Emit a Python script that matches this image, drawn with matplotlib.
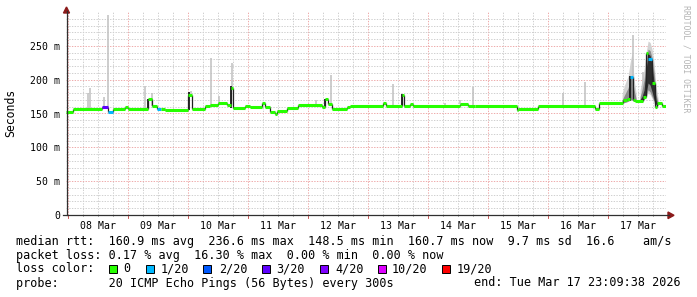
import numpy as np
import matplotlib
matplotlib.use('Agg')
import matplotlib.pyplot as plt
from matplotlib.patches import Rectangle, Polygon
from matplotlib.lines import Line2D

W, H = 697, 297
MONO = 'DejaVu Sans Mono'

# ---------------- data ----------------
# time axis: hours since 08 Mar 00:00
t_start, t_end = -0.84, 239.16
day_labels = ['08 Mar', '09 Mar', '10 Mar', '11 Mar', '12 Mar',
              '13 Mar', '14 Mar', '15 Mar', '16 Mar', '17 Mar']

# median rtt (ms), step breakpoints
med_t = [-0.84, 2.1, 13.5, 16.1, 18.0, 22.8, 24.0, 32.0, 33.6, 35.6, 37.2, 38.8,
         48.0, 49.6, 54.8, 56.8, 60.0, 63.6, 65.2, 66.0, 70.8, 72.8, 77.6, 78.8,
         80.8, 82.8, 83.6, 87.6, 92.0, 101.6, 102.8, 104.0, 105.6, 111.6, 112.8,
         126.0, 127.2, 133.6, 134.4, 136.8, 138.0, 156.8, 160.0, 162.8, 179.6,
         180.0, 188.0, 210.8, 212.4, 222.0, 223.6, 224.8, 226.0, 226.8, 230.0,
         231.2, 232.0, 233.6, 234.8, 235.6, 237.6]
med_v = [152, 156.5, 159, 151.7, 156, 160, 156, 171, 161, 156, 156, 155.5,
         177, 156, 161.5, 162.5, 165, 162.5, 187, 157.7, 161, 159, 165, 160,
         152.7, 149, 153.7, 157.7, 162.5, 159, 171, 164, 156, 160, 161.6,
         165, 161.6, 177, 161.6, 164, 161.6, 163.6, 161.6, 160.6, 155,
         157, 160.6, 156, 165, 170, 172, 204, 170, 169, 175,
         239, 230, 195, 160, 165, 161]
# lost pings (out of 20) per segment
med_loss = [0, 0, 3, 1, 0, 0, 0, 0, 0, 1, 0, 0,
            0, 0, 0, 0, 0, 0, 0, 0, 0, 0, 0, 0,
            0, 0, 0, 0, 0, 0, 0, 0, 0, 0, 0,
            0, 0, 0, 0, 0, 0, 0, 0, 0, 0,
            0, 0, 0, 0, 0, 0, 1, 0, 0, 0,
            0, 1, 0, 0, 0, 0]

# isolated smoke spikes (max ping rtt, ms)
spike_t = [8.0, 8.8, 14.4, 16.0, 30.8, 33.6, 49.2, 57.2, 60.4, 65.6, 99.2,
           105.2, 130.0, 150.8, 156.8, 162.0, 198.0, 206.8, 226.0, 230.0]
spike_top = [180, 188, 174, 295, 190, 180, 183, 232, 176, 224, 170,
             207, 193, 166, 170, 189, 180, 197, 266, 212]

# dense (dark) smoke spikes
dark_t = [32.0, 48.4, 65.0, 102.6, 133.6, 224.8]
dark_lo = [156, 155, 158, 159, 161, 168]
dark_hi = [171, 182, 190, 171, 179, 206]

# smoke during the 17 Mar episodes: outer (light), middle, core (dark)
ep1_t = [221.6, 222.4, 223.2, 224.0, 224.8, 225.6, 226.4, 227.2]
ep1_lo = [166, 166, 167, 168, 170, 170, 169, 168]
ep1_hi = [178, 190, 198, 205, 225, 240, 200, 180]
ep1_mid_hi = [170, 176, 182, 188, 200, 205, 185, 172]

ep2_t = [228.8, 229.6, 230.4, 231.2, 232.0, 232.8, 233.6, 234.4, 235.2, 236.0]
ep2_lo = [168, 168, 170, 174, 180, 178, 172, 165, 160, 162]
ep2_hi = [185, 200, 215, 240, 257, 255, 245, 225, 190, 172]
ep2_mid_lo = [169, 169, 171, 176, 185, 182, 175, 168, 162, 163]
ep2_mid_hi = [175, 185, 200, 228, 245, 243, 232, 210, 178, 166]
ep2_core_lo = [170, 170, 172, 180, 195, 192, 182, 170, 163, 163]
ep2_core_hi = [171, 175, 185, 215, 238, 236, 222, 195, 170, 164]

ytick_vals = [0, 50, 100, 150, 200, 250]
ytick_labels = ['0', '50 m', '100 m', '150 m', '200 m', '250 m']

loss_levels = [0, 1, 2, 3, 4, 10, 19]
loss_labels = ['0', '1/20', '2/20', '3/20', '4/20', '10/20', '19/20']
loss_colors = ['#26ff00', '#00b8ff', '#0059ff', '#5e00ff', '#7e00ff', '#dd00ff', '#ff0000']

row_rtt = 'median rtt:  160.9 ms avg  236.6 ms max  148.5 ms min  160.7 ms now  9.7 ms sd  16.6    am/s'
row_loss = 'packet loss: 0.17 % avg  16.30 % max  0.00 % min  0.00 % now'
row_probe = 'probe:       20 ICMP Echo Pings (56 Bytes) every 300s'
row_end = 'end: Tue Mar 17 23:09:38 2026'
watermark = 'RRDTOOL / TOBI OETIKER'

# ---------------- figure ----------------
fig = plt.figure(figsize=(W / 100, H / 100), dpi=100)
fig.patch.set_facecolor('white')
X0, X1, Y0, Y1 = 66, 666, 215, 12
ax = fig.add_axes([X0 / W, (H - Y0) / H, (X1 - X0) / W, (Y0 - Y1) / H])
ax.set_xlim(t_start, t_end)
ax.set_ylim(0, 300)
for s in ax.spines.values():
    s.set_visible(False)

# grid
xt = ax.get_xaxis_transform()
for h in range(0, 240, 6):
    major = (h % 24 == 0)
    ax.plot([h, h], [0, 1], transform=xt, color='#eeaaaa' if major else '#cfcfcf',
            lw=0.7, ls=(0, (1.4, 1.4)), zorder=0.5)
for v in range(10, 300, 10):
    major = (v % 50 == 0)
    ax.axhline(v, color='#eeaaaa' if major else '#cfcfcf', lw=0.7,
               ls=(0, (1.4, 1.4)), zorder=0.5)

# smoke
mt = np.array(med_t)
mv = np.array(med_v)
def med_at(t):
    i = np.searchsorted(mt, t, side='right') - 1
    return mv[max(i, 0)]

for t, top in zip(spike_t, spike_top):
    ax.vlines(t, med_at(t), top, color='#c0c0c0', lw=1.1, zorder=1.1)

ax.fill_between(ep1_t, ep1_lo, ep1_hi, color='#d2d2d2', lw=0, zorder=1)
ax.fill_between(ep1_t, ep1_lo, ep1_mid_hi, color='#8c8c8c', lw=0, zorder=1.2)
ax.fill_between(ep2_t, ep2_lo, ep2_hi, color='#d2d2d2', lw=0, zorder=1)
ax.fill_between(ep2_t, ep2_mid_lo, ep2_mid_hi, color='#8c8c8c', lw=0, zorder=1.2)
ax.fill_between(ep2_t, ep2_core_lo, ep2_core_hi, color='#2e2e2e', lw=0, zorder=1.3)
ax.vlines(dark_t, dark_lo, dark_hi, color='#1a1a1a', lw=1.3, zorder=1.5)

# median: vertical connectors (dark) + horizontal loss-coloured segments
ax.vlines(mt[1:], np.minimum(mv[:-1], mv[1:]), np.maximum(mv[:-1], mv[1:]),
          color='#222222', lw=0.9, zorder=2)
seg_end = list(med_t[1:]) + [t_end]
cmap = dict(zip(loss_levels, loss_colors))
ax.hlines(med_v, med_t, seg_end, colors=[cmap[l] for l in med_loss], lw=2.2, zorder=3)

# ticks
noons = [12 + 24 * i for i in range(len(day_labels))]
ax.set_xticks(noons, day_labels)
ax.set_yticks(ytick_vals, ytick_labels)
ax.tick_params(axis='both', length=0, labelsize=7.1, colors='black')
ax.tick_params(axis='x', pad=4.2)
ax.tick_params(axis='y', pad=4.3)
for lab in ax.get_xticklabels() + ax.get_yticklabels():
    lab.set_fontfamily(MONO)

# small tick marks below x axis
for h in range(0, 240, 24):
    ax.plot([h, h], [0, -4], color='#c04040', lw=0.6, clip_on=False, zorder=4)
for h in range(6, 240, 6):
    if h % 24:
        ax.plot([h, h], [0, -2], color='#a0a0a0', lw=0.6, clip_on=False, zorder=4)

# axis lines with arrows (pixel coordinates on the figure)
def fx(x):
    return x / W
def fy(y):
    return 1 - y / H
fig.add_artist(Line2D([fx(66.5), fx(66.5)], [fy(215), fy(11)], color='#303030', lw=0.9))
fig.add_artist(Line2D([fx(63), fx(669)], [fy(215.3), fy(215.3)], color='#303030', lw=0.9))
fig.add_artist(Polygon([[fx(63.5), fy(13)], [fx(69.5), fy(13)], [fx(66.5), fy(7)]],
                       closed=True, color='#8b1a1a'))
fig.add_artist(Polygon([[fx(668), fy(212)], [fx(668), fy(218.6)], [fx(674), fy(215.3)]],
                       closed=True, color='#8b1a1a'))

# y label and watermark
fig.text(fx(10.5), fy(113), 'Seconds', rotation=90, ha='center', va='center',
         family=MONO, fontsize=8.3)
fig.text(fx(686), fy(59), watermark, rotation=270, ha='center', va='center',
         family=MONO, fontsize=5.9, color='#b4b4b4')

# legend rows
FS = 8.45
fig.text(fx(16), fy(241.5), row_rtt, ha='left', va='center', family=MONO, fontsize=FS)
fig.text(fx(16), fy(255.5), row_loss, ha='left', va='center', family=MONO, fontsize=FS)
fig.text(fx(16), fy(269), 'loss color:', ha='left', va='center', family=MONO, fontsize=FS)
box_x = [109, 146, 203, 262, 320, 378, 442]
lab_x = [123.5, 161, 219, 276, 335, 392, 457]
for bx, lx, col, lab in zip(box_x, lab_x, loss_colors, loss_labels):
    fig.add_artist(Rectangle((fx(bx), fy(273)), 8 / W, 8 / H, facecolor=col,
                             edgecolor='black', lw=0.7))
    fig.text(fx(lx), fy(269), lab, ha='left', va='center', family=MONO, fontsize=FS)
fig.text(fx(16), fy(283), row_probe, ha='left', va='center', family=MONO, fontsize=FS)
fig.text(fx(680.5), fy(283), row_end, ha='right', va='center', family=MONO, fontsize=FS)

fig.savefig('out.png', dpi=100, facecolor='white')
